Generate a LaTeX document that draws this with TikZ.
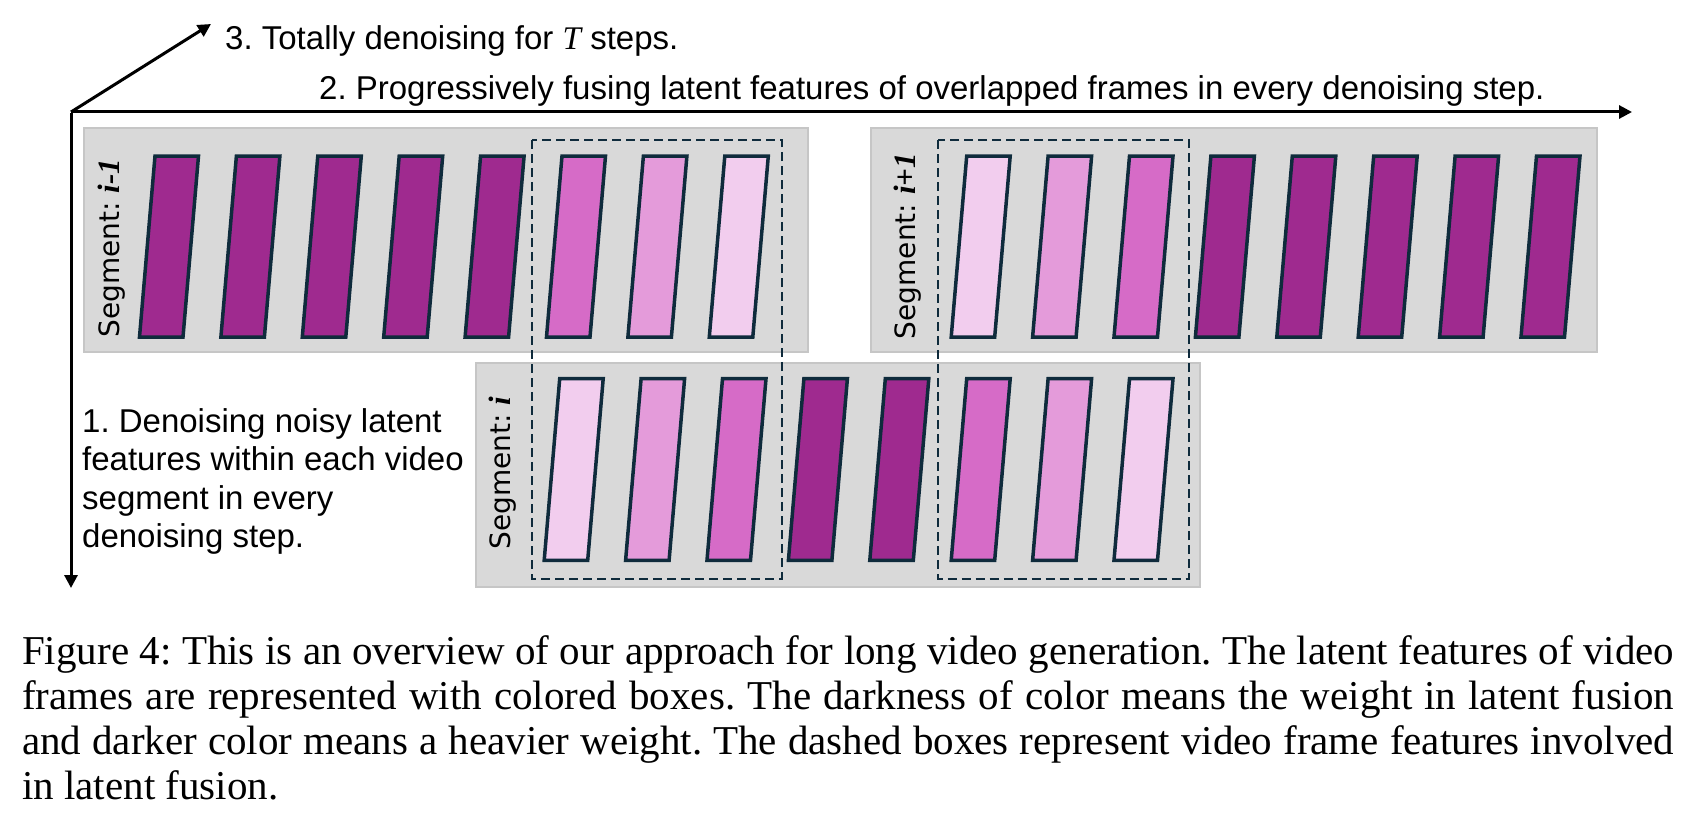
\documentclass[tikz,border=0pt]{standalone}
\usepackage{fontspec}
\newfontfamily\arialf{Liberation Sans}
\newfontfamily\timesf{Liberation Serif}
\newfontfamily\segf{DejaVu Sans}
\usetikzlibrary{arrows.meta}
\definecolor{fdark}{HTML}{9F2A8F}
\definecolor{fmid}{HTML}{D66BC7}
\definecolor{flight}{HTML}{E49BDA}
\definecolor{fpale}{HTML}{F2CDEE}
\definecolor{fline}{HTML}{0F2B3C}
\definecolor{segfill}{HTML}{D9D9D9}
\definecolor{segline}{HTML}{C6C6C6}
\frenchspacing
\begin{document}
\begin{tikzpicture}[x=1pt,y=-1pt,
  axisarrow/.style={line width=3pt,-{Triangle[length=13pt,width=13pt]}},
  segbox/.style={fill=segfill,draw=segline,line width=1.5pt},
  fusebox/.style={draw=fline,line width=2pt,dash pattern=on 9pt off 5pt},
  frameshape/.style={draw=fline,line width=3.5pt},
  seglabel/.style={font=\segf\fontsize{28}{32}\selectfont,rotate=90,inner sep=0pt},
  segmath/.style={},
  lbl/.style={font=\arialf\fontsize{33}{38.5}\selectfont,inner sep=0pt},
  capt/.style={font=\timesf\fontsize{41}{45}\selectfont,inner sep=0pt,align=left}]
\useasboundingbox (0,0) rectangle (1688,832);
% segment boxes
\path[segbox] (84,128) rectangle (808,352);
\path[segbox] (871,128) rectangle (1597,352);
\path[segbox] (476,363) rectangle (1200,587);
% frames of segment i-1
\foreach \c [count=\k from 0] in {fdark,fdark,fdark,fdark,fdark,fmid,flight,fpale}{
  \pgfmathsetmacro\xx{155+81.4*\k}
  \draw[frameshape,fill=\c] (\xx,156) -- ++(43.5,0) -- ++(-15.5,181) -- ++(-43.5,0) -- cycle;
}
% frames of segment i+1
\foreach \c [count=\k from 0] in {fpale,flight,fmid,fdark,fdark,fdark,fdark,fdark}{
  \pgfmathsetmacro\xx{966.7+81.4*\k}
  \draw[frameshape,fill=\c] (\xx,156) -- ++(43.5,0) -- ++(-15.5,181) -- ++(-43.5,0) -- cycle;
}
% frames of segment i
\foreach \c [count=\k from 0] in {fpale,flight,fmid,fdark,fdark,fmid,flight,fpale}{
  \pgfmathsetmacro\xx{559.7+81.4*\k}
  \draw[frameshape,fill=\c] (\xx,378.7) -- ++(43.5,0) -- ++(-15.5,181.6) -- ++(-43.5,0) -- cycle;
}
% fusion boxes
\draw[fusebox] (531.5,140) rectangle (781.5,578.5);
\draw[fusebox] (938,140) rectangle (1189,578.5);
% segment labels
\node[seglabel] (Lprev) at (112,248) {Segment: {\timesf\fontsize{31}{32}\selectfont\bfseries\itshape i-1}};
\node[seglabel] (Lnext) at (908,246) {Segment: {\timesf\fontsize{31}{32}\selectfont\bfseries\itshape i+1}};
\node[seglabel] (Lcur) at (503,473) {Segment: {\timesf\fontsize{31}{32}\selectfont\bfseries\itshape i}};
% axes
\coordinate (O) at (71,112);
\coordinate (Tz) at (211,24);
\coordinate (Tx) at (1632,112);
\coordinate (Ty) at (71,588);
\draw[axisarrow] (O) -- (Tz);
\draw[axisarrow] (O) -- (Tx);
\draw[axisarrow] ([yshift=-1.5pt]O) -- (Ty);
% axis labels
\node[lbl,anchor=base west] (t3) at (225,50) {3. Totally denoising for {\timesf\itshape T} steps.};
\node[lbl,anchor=base west] (t2) at (319,100) {2. Progressively fusing latent features of overlapped frames in every denoising step.};
\node[lbl,anchor=north west,align=left] (t1) at (82,408) {1. Denoising noisy latent\\features within each video\\segment in every\\denoising step.};
% caption
\node[capt,anchor=north west] (cap) at (22,635) {%
\makebox[1652pt][s]{Figure 4: This is an overview of our approach for long video generation. The latent features of video}\\
\makebox[1652pt][s]{frames are represented with colored boxes. The darkness of color means the weight in latent fusion}\\
\makebox[1652pt][s]{and darker color means a heavier weight. The dashed boxes represent video frame features involved}\\
in latent fusion.};
\end{tikzpicture}
\end{document}
